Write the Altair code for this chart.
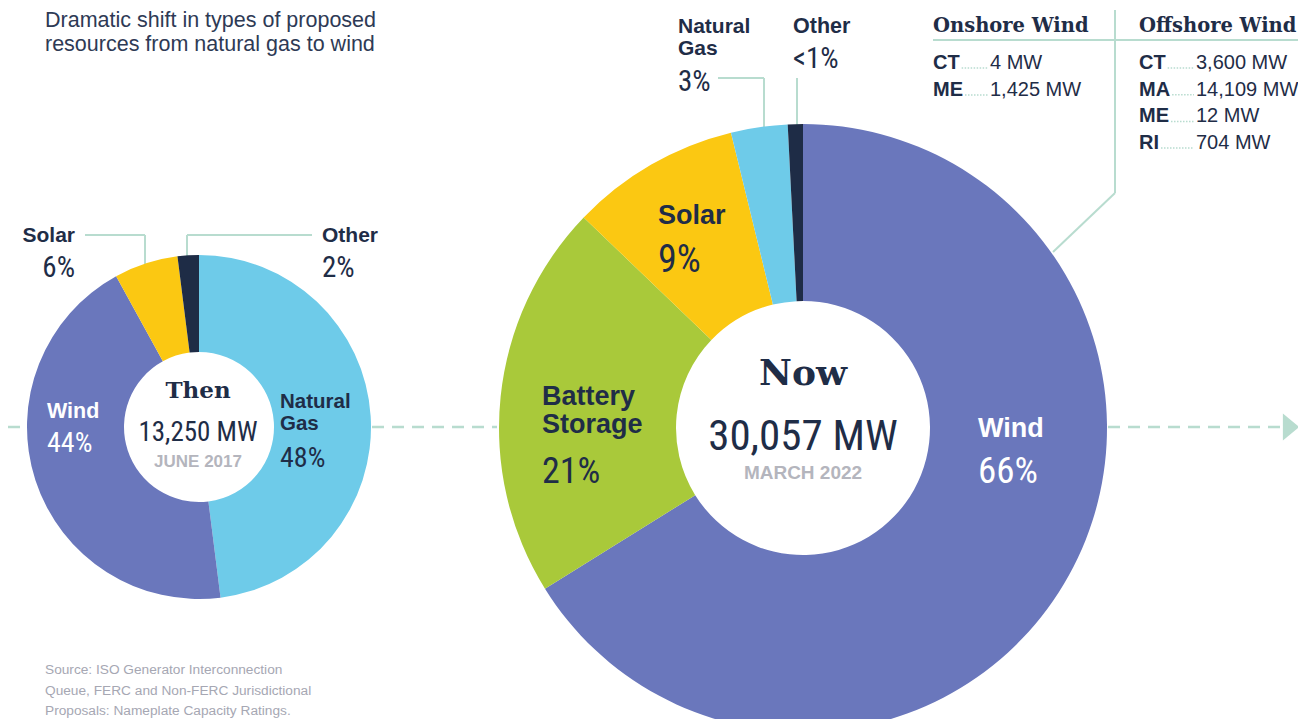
import altair as alt
import pandas as pd

# ---------------- data ----------------
title_lines = ["Dramatic shift in types of proposed", "resources from natural gas to wind"]
source_lines = ["Source: ISO Generator Interconnection",
                "Queue, FERC and Non-FERC Jurisdictional",
                "Proposals: Nameplate Capacity Ratings."]

then_categories = ["Natural Gas", "Wind", "Solar", "Other"]
then_share = [48, 44, 6, 2]
then_total = "13,250 MW"
then_date = "JUNE 2017"

now_categories = ["Wind", "Battery Storage", "Solar", "Natural Gas", "Other"]
now_share = [66, 21, 9, 3, 0.8]
now_total = "30,057 MW"
now_date = "MARCH 2022"

onshore_states = ["CT", "ME"]
onshore_mw = [4, 1425]
offshore_states = ["CT", "MA", "ME", "RI"]
offshore_mw = [3600, 14109, 12, 704]

# ---------------- styles ----------------
OFF = 8
W, H = 1290, 711
NAVY = "#1f2d47"
LEAD = "#b8dccf"
GREY_T = "#a6a7b3"
palette_domain = ["Natural Gas", "Wind", "Solar", "Battery Storage", "Other"]
palette_range = ["#6ecbe9", "#6a77bc", "#fbc812", "#a9c93a", "#1e2c46"]

SANS = "Liberation Sans, Arial, Helvetica, sans-serif"
COND = "Roboto Condensed, DejaVu Sans Condensed, sans-serif"
SERIF = "DejaVu Serif, Liberation Serif, serif"

dummy = pd.DataFrame({"d": [0]})
layers = []


def pct(v):
    return f"{v:g}%" if v >= 1 else "<1%"


def text(s, x, y, size, font=SANS, weight="bold", color=NAVY, align="left"):
    df = pd.DataFrame({"t": [s]})
    return alt.Chart(df).mark_text(
        font=font, fontSize=size, fontWeight=weight, color=color,
        align=align, baseline="alphabetic"
    ).encode(text="t:N", x=alt.value(x - OFF), y=alt.value(y - OFF))


def rule(x1, y1, x2, y2, width=2, dash=None, color=LEAD):
    kw = dict(color=color, strokeWidth=width)
    if dash:
        kw["strokeDash"] = dash
    return alt.Chart(dummy).mark_rule(**kw).encode(
        x=alt.value(x1 - OFF), y=alt.value(y1 - OFF),
        x2=alt.value(x2 - OFF), y2=alt.value(y2 - OFF))


color_enc = alt.Color("category:N",
                      scale=alt.Scale(domain=palette_domain, range=palette_range),
                      legend=None)

# dashed connector line
layers.append(rule(8, 427, 28, 427, width=2.5, dash=[12, 8]))
layers.append(rule(372, 427, 497, 427, width=2.5, dash=[12, 8]))
layers.append(rule(1108, 427, 1284, 427, width=2.5, dash=[12, 8]))
layers.append(alt.Chart(dummy).mark_point(
    shape="M-0.6,-1L0.6,0L-0.6,1Z", filled=True, size=729, color=LEAD, opacity=1
).encode(x=alt.value(1291 - OFF), y=alt.value(427 - OFF)))

# leader lines
layers += [
    rule(85, 235, 145, 235), rule(145, 235, 145, 264),
    rule(187, 235, 312, 235), rule(187, 235, 187, 257),
    rule(718, 78, 764, 78), rule(764, 78, 764, 129),
    rule(797, 78, 797, 126),
    rule(933, 40, 1306, 40),
    rule(1115, 10, 1115, 193), rule(1115, 193, 1053, 252),
]

# donuts
then_df = pd.DataFrame({"category": then_categories, "share": then_share,
                        "order": list(range(len(then_categories)))})
now_df = pd.DataFrame({"category": now_categories, "share": now_share,
                       "order": list(range(len(now_categories)))})

arc_then = alt.Chart(then_df).mark_arc(outerRadius=172, innerRadius=75).encode(
    theta=alt.Theta("share:Q", stack=True), order=alt.Order("order:Q"),
    color=color_enc, x=alt.value(199 - OFF), y=alt.value(427 - OFF))
arc_now = alt.Chart(now_df).mark_arc(outerRadius=304, innerRadius=127).encode(
    theta=alt.Theta("share:Q", stack=True), order=alt.Order("order:Q"),
    color=color_enc, x=alt.value(803 - OFF), y=alt.value(428 - OFF))
layers += [arc_then, arc_now]

# title / source
layers.append(text(title_lines[0], 45, 27, 21.5, weight="normal", color="#2e3a55"))
layers.append(text(title_lines[1], 45, 51, 21.5, weight="normal", color="#2e3a55"))
for i, s in enumerate(source_lines):
    layers.append(text(s, 45, 674 + 20.5 * i, 13.7, weight="normal", color=GREY_T))

# left donut labels
ts = dict(zip(then_categories, then_share))
layers += [
    text("Solar", 75, 242, 21, align="right"),
    text(pct(ts["Solar"]), 75, 277, 29, font=COND, weight="normal", align="right"),
    text("Other", 322, 242, 21),
    text(pct(ts["Other"]), 322, 277, 29, font=COND, weight="normal"),
    text("Natural", 280, 408, 20.5),
    text("Gas", 280, 430, 20.5),
    text(pct(ts["Natural Gas"]), 280, 467, 28, font=COND, weight="normal"),
    text("Wind", 47, 418, 21.5, color="white"),
    text(pct(ts["Wind"]), 47, 452, 28, font=COND, weight="normal", color="white"),
    text("Then", 198, 398, 23, font=SERIF, align="center"),
    text(then_total, 198, 441, 27, font=COND, weight="normal", align="center"),
    text(then_date, 198, 467, 17, color="#b4b5bd", align="center"),
]

# right donut labels
ns = dict(zip(now_categories, now_share))
layers += [
    text("Natural", 678, 33, 21),
    text("Gas", 678, 55, 21),
    text(pct(ns["Natural Gas"]), 678, 91, 29, font=COND, weight="normal"),
    text("Other", 793, 33, 21.5),
    text(pct(ns["Other"]), 793, 68, 29, font=COND, weight="normal"),
    text("Solar", 658, 224, 27),
    text(pct(ns["Solar"]), 658, 272, 38, font=COND, weight="normal"),
    text("Battery", 542, 405, 27),
    text("Storage", 542, 433, 27),
    text(pct(ns["Battery Storage"]), 542, 483, 36, font=COND, weight="normal"),
    text("Wind", 978, 437, 27, color="white"),
    text(pct(ns["Wind"]), 978, 483, 37, font=COND, weight="normal", color="white"),
    text("Now", 803, 385, 36, font=SERIF, align="center"),
    text(now_total, 803, 450, 43, font=COND, weight="normal", align="center"),
    text(now_date, 803, 479, 19, color="#b4b5bd", align="center"),
]

# wind table
layers.append(text("Onshore Wind", 933, 32, 19.5, font=SERIF))
layers.append(text("Offshore Wind", 1139, 32, 19.5, font=SERIF))

BOLD_W = {"C": .722, "T": .611, "M": .833, "E": .667, "A": .722, "R": .722, "I": .278}
ROW = 20


def table(states, mws, x_state, x_val, y0, step):
    out = []
    for i, (st, mw) in enumerate(zip(states, mws)):
        y = y0 + step * i
        w = sum(BOLD_W[c] for c in st) * ROW
        out.append(rule(x_state + w + 2, y - 1, x_val - 2, y - 1, width=1.5, dash=[1.5, 1.5]))
        out.append(text(st, x_state, y, ROW))
        out.append(text(f"{mw:,} MW", x_val, y, ROW, weight="normal"))
    return out


layers += table(onshore_states, onshore_mw, 933, 990, 69, 27)
layers += table(offshore_states, offshore_mw, 1139, 1196, 69, 26.7)

chart = alt.layer(*layers).resolve_scale(theta="independent").properties(
    width=W, height=H, padding=0, autosize="none", background="white"
).configure_view(stroke=None)

chart.save("out.html", embed_options={"renderer": "svg", "actions": False})
